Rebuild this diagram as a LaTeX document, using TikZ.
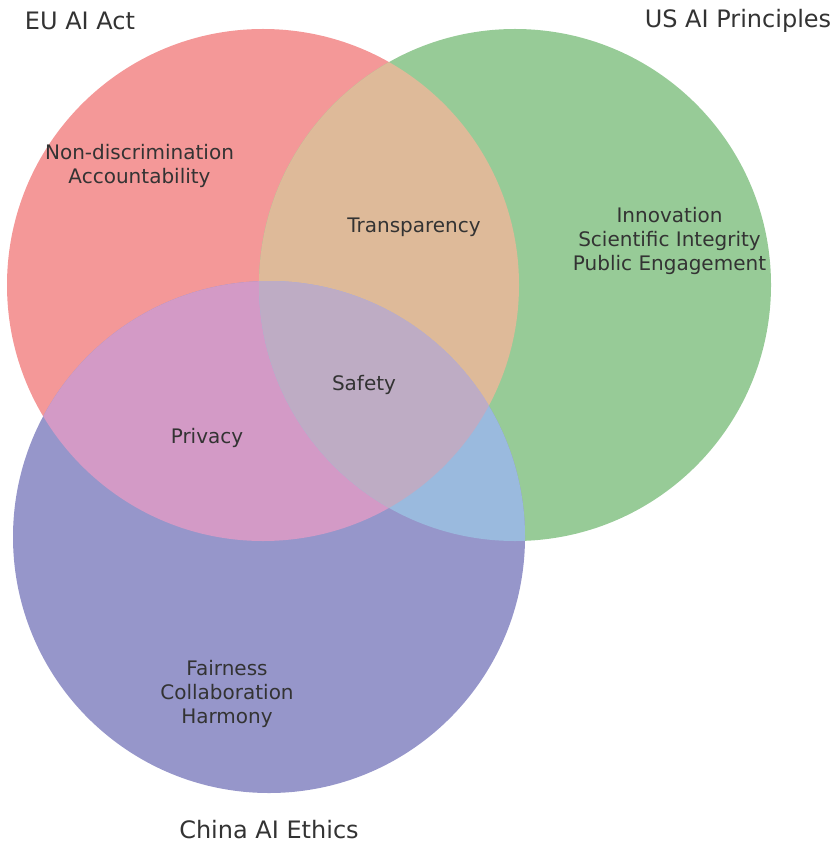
\documentclass[tikz,border=0pt]{standalone}
\usepackage{fontspec}
\setmainfont{DejaVu Sans}
\definecolor{eucol}{RGB}{244,152,152}
\definecolor{uscol}{RGB}{151,203,151}
\definecolor{cncol}{RGB}{150,150,202}
\definecolor{euus}{RGB}{222,186,153}
\definecolor{eucn}{RGB}{211,154,198}
\definecolor{uscn}{RGB}{154,186,222}
\definecolor{allcol}{RGB}{190,172,196}
\definecolor{txt}{RGB}{51,51,51}
\tikzset{
  setlabel/.style={text=txt, font=\fontsize{24}{29}\selectfont, inner sep=0pt},
  reglabel/.style={text=txt, font=\fontsize{20}{24}\selectfont, align=center, inner sep=0pt},
}
\begin{document}
\begin{tikzpicture}[x=1pt,y=-1pt]
\useasboundingbox (0,0) rectangle (836,842);
\coordinate (eu) at (263,285);
\coordinate (us) at (515,285);
\coordinate (cn) at (269,537);
\def\R{256}
% base circles
\fill[eucol] (eu) circle[radius=\R];
\fill[uscol] (us) circle[radius=\R];
\fill[cncol] (cn) circle[radius=\R];
% pairwise overlaps
\begin{scope}
  \clip (eu) circle[radius=\R];
  \fill[euus] (us) circle[radius=\R];
  \fill[eucn] (cn) circle[radius=\R];
\end{scope}
\begin{scope}
  \clip (us) circle[radius=\R];
  \fill[uscn] (cn) circle[radius=\R];
\end{scope}
\begin{scope}
  \clip (eu) circle[radius=\R];
  \clip (us) circle[radius=\R];
  \fill[allcol] (cn) circle[radius=\R];
\end{scope}
% set labels
\node[setlabel] (euname) at (80,21) {EU AI Act};
\node[setlabel] (usname) at (738,21) {US AI Principles};
\node[setlabel] (cnname) at (269,829.5) {China AI Ethics};
% region labels
\node[reglabel] (euonly) at (139.5,166) {Non-discrimination\\Accountability};
\node[reglabel] (usonly) at (669.5,241) {Innovation\\Scientific Integrity\\Public Engagement};
\node[reglabel] (cnonly) at (227,694) {Fairness\\Collaboration\\Harmony};
\node[reglabel] (euusr) at (414,227) {Transparency};
\node[reglabel] (eucnr) at (207,438) {Privacy};
\node[reglabel] (allr) at (364,385) {Safety};
\end{tikzpicture}
\end{document}
